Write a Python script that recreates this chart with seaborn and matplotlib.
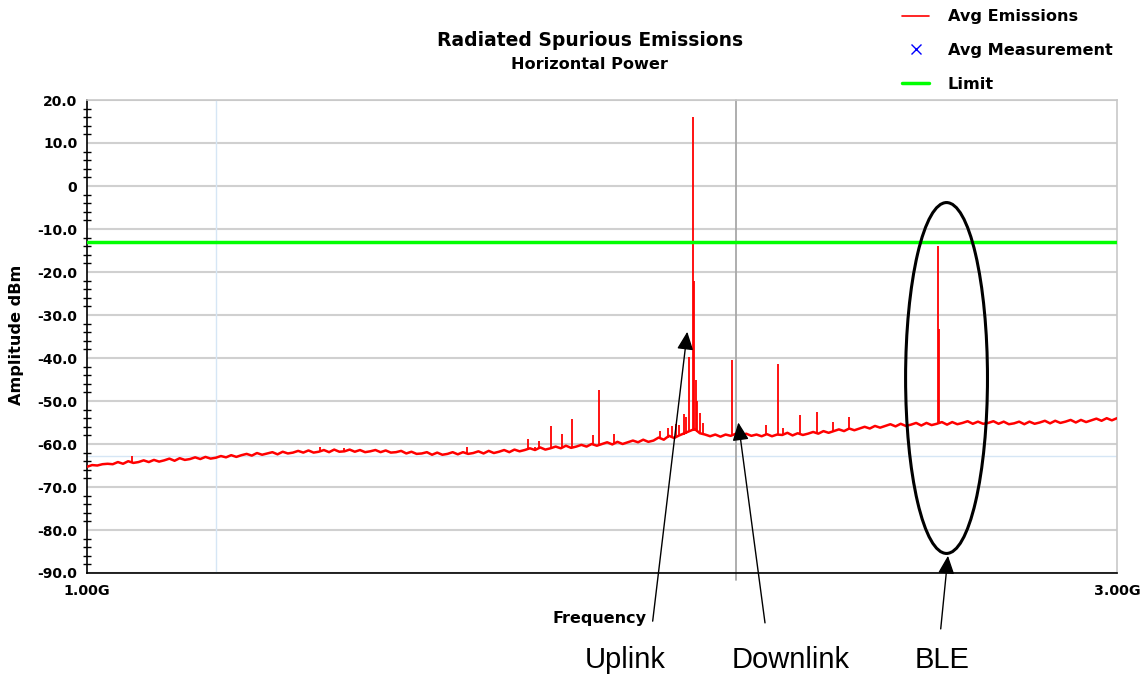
import numpy as np
import pandas as pd
import matplotlib
matplotlib.use("Agg")
import matplotlib.pyplot as plt
import seaborn as sns
from matplotlib.patches import Ellipse
from matplotlib.lines import Line2D
from matplotlib.ticker import MultipleLocator

sns.set_style("white")
plt.rcParams["font.family"] = ["DejaVu Sans"]
plt.rcParams["text.color"] = "black"
plt.rcParams["axes.labelcolor"] = "black"
plt.rcParams["xtick.color"] = "black"
plt.rcParams["ytick.color"] = "black"

# ---------------- data ----------------
floor_db = [
    -65.3, -64.9, -65.0, -64.7, -64.6, -64.7, -64.2, -64.6, -64.0, -64.4,
    -64.2, -63.8, -64.2, -63.7, -64.1, -63.8, -63.4, -63.9, -63.3, -63.7,
    -63.5, -63.1, -63.5, -63.0, -63.4, -63.2, -62.8, -63.1, -62.6, -63.0,
    -62.6, -62.3, -62.7, -62.1, -62.5, -62.2, -61.9, -62.4, -61.8, -62.2,
    -62.0, -61.6, -62.0, -61.5, -62.0, -61.8, -61.4, -61.9, -61.3, -61.8,
    -61.7, -61.3, -61.8, -61.4, -61.9, -61.7, -61.4, -61.9, -61.5, -62.0,
    -61.9, -61.6, -62.2, -61.8, -62.3, -62.2, -61.9, -62.5, -62.0, -62.5,
    -62.3, -61.9, -62.4, -61.9, -62.3, -62.1, -61.7, -62.2, -61.6, -62.1,
    -61.8, -61.4, -61.9, -61.3, -61.7, -61.4, -61.0, -61.4, -60.8, -61.3,
    -61.0, -60.6, -61.0, -60.4, -60.9, -60.6, -60.2, -60.6, -60.0, -60.4,
    -60.0, -59.6, -60.1, -59.5, -60.0, -59.6, -59.2, -59.6, -59.0, -59.5,
    -59.2, -58.5, -59.0, -58.1, -58.6, -58.0, -57.5, -57.0, -56.5, -57.5,
    -57.8, -58.2, -57.8, -58.3, -57.8, -58.1, -57.6, -58.1, -57.6, -58.1,
    -57.8, -58.2, -57.7, -58.2, -57.8, -57.9, -57.4, -58.0, -57.5, -57.9,
    -57.6, -57.2, -57.6, -57.0, -57.4, -57.0, -56.6, -57.0, -56.4, -56.8,
    -56.4, -56.0, -56.4, -55.8, -56.2, -55.8, -55.4, -55.9, -55.3, -55.8,
    -55.5, -55.1, -55.7, -55.1, -55.6, -55.3, -54.9, -55.5, -54.9, -55.4,
    -55.1, -54.7, -55.3, -54.8, -55.3, -55.1, -54.7, -55.3, -54.8, -55.4,
    -55.2, -54.8, -55.4, -54.8, -55.3, -55.0, -54.6, -55.2, -54.6, -55.1,
    -54.8, -54.4, -55.0, -54.4, -54.9, -54.5, -54.1, -54.6, -54.0, -54.5,
    -54.0,
]
freq_ghz = np.linspace(1.0, 3.0, len(floor_db))  # sweep grid

spike_freq = [1.087, 1.452, 1.499, 1.738, 1.856, 1.870, 1.878, 1.901, 1.922,
              1.942, 1.983, 1.994, 2.023, 2.113, 2.128, 2.136, 2.144, 2.150,
              2.159, 2.163, 2.169, 2.176, 2.179, 2.182, 2.185, 2.190, 2.196,
              2.252, 2.318, 2.342, 2.351, 2.384, 2.417, 2.449, 2.480, 2.653,
              2.655]
spike_base = [-64.2, -61.6, -61.6, -62.1, -61.3, -61.2, -61.1, -60.9, -60.8,
              -60.7, -60.3, -60.2, -59.8, -58.9, -58.5, -58.4, -58.3, -58.0,
              -57.8, -57.6, -57.2, -57.0, -57.0, -57.0, -57.2, -57.5, -57.8,
              -58.0, -57.9, -57.9, -57.8, -57.6, -57.4, -56.9, -56.6, -55.3,
              -55.3]
spike_top = [-62.8, -60.8, -61.0, -60.6, -58.8, -60.6, -59.3, -55.8, -57.7,
             -54.2, -58.0, -47.4, -57.7, -57.0, -56.3, -55.8, -55.3, -55.6,
             -53.0, -53.8, -39.7, 16.0, -22.0, -45.0, -50.0, -52.8, -55.0,
             -40.5, -55.6, -41.4, -56.3, -53.3, -52.6, -54.9, -53.7, -14.0,
             -33.3]

limit_freq = [1.0, 3.0]
limit_db = [-13.0, -13.0]

y_ticks = [20, 10, 0, -10, -20, -30, -40, -50, -60, -70, -80, -90]
y_tick_labels = ["20.0", "10.0", "0", "-10.0", "-20.0", "-30.0", "-40.0",
                 "-50.0", "-60.0", "-70.0", "-80.0", "-90.0"]
x_ticks = [1.0, 3.0]
x_tick_labels = ["1.00G", "3.00G"]

legend_labels = ["Avg Emissions", "Avg Measurement", "Limit"]

marker_freq = 2.26      # grey vertical marker
ref_freq = 1.25         # light-blue reference lines
ref_db = -62.8

band_labels = ["Uplink", "Downlink", "BLE"]
band_tip_freq = [2.1656, 2.2647, 2.6718]
band_tip_db = [-33.9, -55.0, -86.0]
band_tail_freq = [2.0984, 2.3165, 2.6577]
band_tail_db = [-101.2, -101.6, -103.0]
ble_center = (2.669, -44.65)
ble_size = (0.159, 81.6)

# ---------------- figure ----------------
W, H = 1148, 675
fig = plt.figure(figsize=(W / 100, H / 100), dpi=100)
ax = fig.add_axes([87 / W, 1 - 573 / H, 1030 / W, 473 / H])

trace = pd.DataFrame({"freq": freq_ghz, "amp": floor_db})
sns.lineplot(data=trace, x="freq", y="amp", color="#ff0000", lw=1.8,
             estimator=None, ax=ax, zorder=3)
ax.vlines(spike_freq, spike_base, spike_top, color="#ff0000", lw=1.3, zorder=3)

lim = pd.DataFrame({"freq": limit_freq, "amp": limit_db})
sns.lineplot(data=lim, x="freq", y="amp", color="#00ff00", lw=2.5,
             estimator=None, ax=ax, zorder=4)

ax.axvline(ref_freq, color="#d6e6f5", lw=1.0, zorder=1)
ax.axhline(ref_db, color="#d6e6f5", lw=1.0, zorder=1)
ax.axvline(marker_freq, ymin=-0.015, ymax=1, color="#a8a8a8", lw=1.3,
           zorder=2, clip_on=False)

ax.set_xlim(1.0, 3.0)
ax.set_ylim(-90, 20)
ax.set_yticks(y_ticks)
ax.set_yticklabels(y_tick_labels, fontweight="bold")
ax.set_xticks(x_ticks)
ax.set_xticklabels(x_tick_labels, fontweight="bold")
ax.yaxis.set_minor_locator(MultipleLocator(2))
ax.tick_params(axis="y", which="major", direction="inout", length=10,
               width=1, color="black", pad=2, labelsize=10, labelcolor="black")
ax.tick_params(axis="y", which="minor", direction="inout", length=6,
               width=1, color="black", left=True)
ax.tick_params(axis="x", length=0, pad=8, labelsize=10.3, labelcolor="black")
ax.yaxis.grid(True, which="major", color="#d0d0d0", lw=1.5)
ax.xaxis.grid(False)
ax.set_axisbelow(True)
ax.set_xlabel("")
ax.set_ylabel("")
for s in ["left", "bottom"]:
    ax.spines[s].set_color("black")
    ax.spines[s].set_linewidth(1.2)
for s in ["top", "right"]:
    ax.spines[s].set_color("#c8c8c8")
    ax.spines[s].set_linewidth(1.2)

# ellipse around BLE
ax.add_patch(Ellipse(ble_center, ble_size[0], ble_size[1], fill=False,
                     ec="black", lw=2.2, zorder=5, clip_on=False))

# arrows
for tf, td, sf, sd in zip(band_tip_freq, band_tip_db, band_tail_freq, band_tail_db):
    ax.annotate("", xy=(tf, td), xytext=(sf, sd), xycoords="data",
                textcoords="data", annotation_clip=False,
                arrowprops=dict(arrowstyle="-|>,head_length=0.55,head_width=0.25",
                                mutation_scale=20, lw=1.0, color="black",
                                shrinkA=0, shrinkB=0), zorder=6)

# titles and labels
fig.text(589.7 / W, 1 - 46 / H, "Radiated Spurious Emissions", ha="center",
         va="baseline", fontsize=13.5, fontweight="bold", color="black")
fig.text(589.0 / W, 1 - 69.3 / H, "Horizontal Power", ha="center",
         va="baseline", fontsize=11.6, fontweight="bold", color="black")
fig.text(17 / W, 1 - 335 / H, "Amplitude dBm", rotation=90, ha="center",
         va="center", fontsize=11.6, fontweight="bold", color="black")
fig.text(600 / W, 1 - 623.5 / H, "Frequency", ha="center", va="baseline",
         fontsize=11.5, fontweight="bold", color="black")

band_x = [625.5, 790.5, 942.0]
for lbl, bx in zip(band_labels, band_x):
    fig.text(bx / W, 1 - 668.3 / H, lbl, ha="center", va="baseline",
             fontsize=21, color="black", family=["Liberation Sans", "DejaVu Sans"])

# legend
handles = [Line2D([], [], color="#ff0000", lw=1.2),
           Line2D([], [], color="blue", marker="x", ls="none", ms=7, mew=1),
           Line2D([], [], color="#00ff00", lw=2.5)]
leg = fig.legend(handles, legend_labels, loc="upper left",
                 bbox_to_anchor=(902 / W, 1 - 9.5 / H), frameon=False,
                 borderaxespad=0, borderpad=0, handlelength=1.7,
                 handletextpad=1.15, labelspacing=1.15,
                 prop={"weight": "bold", "size": 11.6})
for t in leg.get_texts():
    t.set_color("black")

fig.savefig("out.png", dpi=100)
